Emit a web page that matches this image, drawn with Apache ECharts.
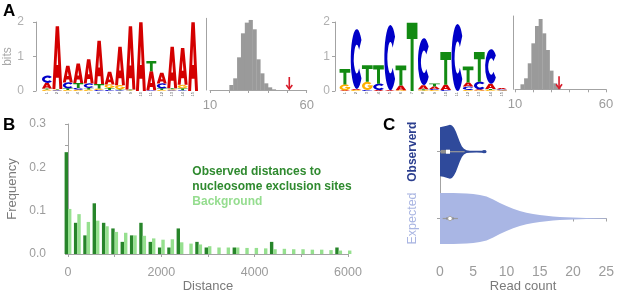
<!DOCTYPE html>
<html>
<head>
<meta charset="utf-8">
<script src="https://cdn.jsdelivr.net/npm/echarts@6/dist/echarts.min.js"></script>
<style>
html, body { margin: 0; padding: 0; background: #fff; }
#chart { width: 617px; height: 294px; }
</style>
</head>
<body>
<div id="chart"></div>
<script>
// ---------- Panel A: motif logos, letters listed bottom to top as [letter, bits]
var logoPositions1 = ['1','2','3','4','5','6','7','8','9','10','11','12','13','14','15'];
var logo1 = [
    [['G', .04], ['T', .03], ['A', .17], ['C', .20]],
    [['C', .02], ['G', .02], ['T', .02], ['A', 1.82]],
    [['G', .03], ['T', .05], ['C', .17], ['A', .48]],
    [['G', .04], ['C', .05], ['T', .14], ['A', .57]],
    [['G', .04], ['T', .05], ['C', .13], ['A', .70]],
    [['C', .03], ['G', .04], ['T', .13], ['A', 1.26]],
    [['C', .03], ['T', .06], ['G', .10], ['A', .37]],
    [['C', .02], ['T', .03], ['G', .12], ['A', 1.11]],
    [['C', .01], ['G', .01], ['T', .02], ['A', 1.84]],
    [['A', 1.99]],
    [['C', .02], ['A', .55], ['T', .30]],
    [['G', .03], ['T', .05], ['C', .14], ['A', .31]],
    [['C', .02], ['G', .03], ['T', .03], ['A', 1.20]],
    [['C', .02], ['T', .06], ['G', .10], ['A', 1.07]],
    [['A', 1.99]]
];
var logoPositions2 = ['1','2','3','4','5','6','7','8','9','10','11','12','13','14','15'];
var logo2 = [
    [['A', .02], ['G', .17], ['T', .45]],
    [['G', .03], ['A', .03], ['C', 1.73]],
    [['C', .03], ['G', .24], ['T', .48]],
    [['A', .03], ['C', .18], ['T', .54]],
    [['A', .02], ['C', 1.89]],
    [['G', .02], ['A', .14], ['T', .58]],
    [['T', 1.98]],
    [['G', .02], ['T', .03], ['A', .12], ['C', 1.36]],
    [['G', .03], ['C', .03], ['A', .07], ['T', .09]],
    [['C', .03], ['A', .15], ['T', .95]],
    [['C', 1.94]],
    [['G', .03], ['C', .10], ['A', .12], ['T', .46]],
    [['G', .02], ['A', .03], ['C', .22], ['T', .86]],
    [['G', .03], ['T', .03], ['A', .15], ['C', 1.00]],
    [['G', .02], ['C', .03], ['A', .04]]
];

// histograms next to the logos (bin start, bin width, counts) + observed value (arrow)
var hist1Start = 20, hist1Bin = 2;
var hist1Counts = [15, 35, 98, 170, 202, 210, 182, 92, 50, 20, 8, 2];
var hist1Observed = 51;
var hist2Start = 13, hist2Bin = 2;
var hist2Counts = [15, 33, 78, 138, 190, 211, 168, 118, 56, 18, 6];
var hist2Observed = 34.2;

// ---------- Panel B
var distBins = [0, 200, 400, 600, 800, 1000, 1200, 1400, 1600, 1800, 2000, 2200, 2400, 2600, 2800, 3000,
    3200, 3400, 3600, 3800, 4000, 4200, 4400, 4600, 4800, 5000, 5200, 5400, 5600, 5800, 6000];
var observedFreq = [0.235, 0.072, 0.043, 0.117, 0.072, 0.059, 0.028, 0.043, 0.072, 0.028, 0.015, 0.015, 0.059, 0, 0.028, 0.015,
    0, 0, 0.015, 0, 0, 0, 0.028, 0, 0, 0, 0, 0, 0, 0.015, 0];
var backgroundFreq = [0.104, 0.092, 0.074, 0.077, 0.064, 0.051, 0.049, 0.043, 0.042, 0.036, 0.033, 0.034, 0.027, 0.024, 0.022, 0.018,
    0.015, 0.015, 0.015, 0.014, 0.014, 0.013, 0.011, 0.012, 0.011, 0.011, 0.010, 0.010, 0.009, 0.008, 0.008];

// ---------- Panel C: violins (read count, half width) ; Observed at y=1, Expected at y=0
var obsViolinX = [0, 0.5, 1.0, 1.5, 1.8, 2.1, 2.4, 2.7, 3.0, 3.3, 3.6, 4.0, 4.5, 5.5, 6.3, 6.6, 6.9, 7.0];
var obsViolinW = [.367, .376, .390, .404, .393, .357, .300, .221, .143, .079, .043, .021, .014, .013, .014, .024, .021, .004];
var expViolinX = [0, 2, 4, 5, 6, 7, 8, 9, 10, 11, 12, 13, 14, 15, 16, 17, 18, 19, 20, 22, 25];
var expViolinW = [.381, .381, .376, .367, .353, .329, .286, .233, .186, .147, .114, .086, .067, .053, .040, .030, .023, .019, .014, .009, .004];
var obsBox = [0, 0.1, 1.2, 1.5, 3.7];   // min, q1, median, q3, max
var expBox = [0.4, 0.9, 1.5, 2.1, 2.7];

var FONT = '"Liberation Sans", Arial, Helvetica, sans-serif';
var axisGray = '#a3a3a3';
var labelGray = '#9c9c9c';
var letterColors = { A: '#d40000', C: '#0000c8', G: '#ffb000', T: '#128a12' };
var letterCodes = ['A', 'C', 'G', 'T'];

// heavy block letter outlines in a 100x100 box, stretched into each cell
var letterPaths = {
    A: 'M0,100 L33,0 L67,0 L100,100 L70,100 L64,82 L36,82 L30,100 Z M42,62 L58,62 L50,34 Z',
    C: 'M88.3,17.9 A50,50 0 1 0 88.3,82.1 L68.4,65.4 A24,24 0 1 1 68.4,34.6 Z',
    G: 'M88.3,17.9 A50,50 0 1 0 100,52 L100,43 L54,43 L54,60 L72,60 A24,24 0 1 1 68.4,34.6 Z',
    T: 'M0,0 L100,0 L100,24 L64,24 L64,100 L36,100 L36,24 L0,24 Z'
};

function logoData(logo) {
    var out = [];
    logo.forEach(function (col, i) {
        var y = 0;
        col.forEach(function (item) {
            out.push([i, y, y + item[1], letterCodes.indexOf(item[0])]);
            y += item[1];
        });
    });
    return out;
}

function renderLetter(params, api) {
    var ch = letterCodes[api.value(3)];
    var bottom = api.coord([api.value(0), api.value(1)]);
    var top = api.coord([api.value(0), api.value(2)]);
    var bw = api.size([1, 0])[0];
    var h = bottom[1] - top[1];
    if (h < 0.25) return;
    return {
        type: 'path',
        shape: { pathData: letterPaths[ch], x: bottom[0] - bw / 2 + 0.25, y: top[1], width: bw - 0.5, height: h, layout: 'cover' },
        style: { fill: letterColors[ch] }
    };
}

function histData(start, bin, counts) {
    return counts.map(function (c, i) { return [start + i * bin, start + (i + 1) * bin, c]; });
}

function renderHistBar(params, api) {
    var p0 = api.coord([api.value(0), api.value(2)]);
    var p1 = api.coord([api.value(1), 0]);
    return { type: 'rect', shape: { x: p0[0], y: p0[1], width: p1[0] - p0[0] + 0.3, height: p1[1] - p0[1] }, style: { fill: '#9a9a9a' } };
}

function renderArrow(params, api) {
    var p = api.coord([api.value(0), 0]);
    var yb = p[1] - 1, yt = p[1] - 13;
    return {
        type: 'group', children: [
            { type: 'line', shape: { x1: p[0], y1: yt, x2: p[0], y2: yb }, style: { stroke: '#d81b2a', lineWidth: 1.6 } },
            { type: 'polyline', shape: { points: [[p[0] - 3, yb - 4], [p[0], yb], [p[0] + 3, yb - 4]] }, style: { stroke: '#d81b2a', lineWidth: 1.6, fill: null } }
        ]
    };
}

function violinRenderer(xs, ws, center, color) {
    return function (params, api) {
        var upper = [], lower = [];
        for (var i = 0; i < xs.length; i++) {
            upper.push(api.coord([xs[i], center + ws[i]]));
            lower.unshift(api.coord([xs[i], center - ws[i]]));
        }
        return { type: 'polygon', shape: { points: upper.concat(lower) }, style: { fill: color } };
    };
}

function boxRenderer(box, center, boxHalf, medianShape) {
    return function (params, api) {
        var pMin = api.coord([box[0], center]), pQ1 = api.coord([box[1], center]);
        var pMed = api.coord([box[2], center]), pQ3 = api.coord([box[3], center]);
        var pMax = api.coord([box[4], center]);
        var y = pMed[1];
        var med = medianShape === 'square'
            ? { type: 'rect', shape: { x: pMed[0] - 2, y: y - 2, width: 4, height: 4 }, style: { fill: '#fff' } }
            : { type: 'circle', shape: { cx: pMed[0], cy: y, r: 2.2 }, style: { fill: '#fff', stroke: '#999', lineWidth: 0.8 } };
        return {
            type: 'group', children: [
                { type: 'line', shape: { x1: pMin[0], y1: y, x2: pMax[0], y2: y }, style: { stroke: '#9a9a9a', lineWidth: 1.2 } },
                { type: 'rect', shape: { x: pQ1[0], y: y - boxHalf, width: pQ3[0] - pQ1[0], height: boxHalf * 2 }, style: { fill: '#8e8e8e' } },
                med
            ]
        };
    };
}

function logoXAxis(gridIndex, cats) {
    return {
        gridIndex: gridIndex, type: 'category', data: cats,
        axisLine: { show: false }, axisTick: { show: false },
        axisLabel: { fontSize: 4, color: '#555', margin: 1, rotate: 90, interval: 0 }
    };
}
function logoYAxis(gridIndex, offset, margin, name) {
    return {
        gridIndex: gridIndex, type: 'value', min: 0, max: 2, interval: 1, offset: offset,
        axisLine: { show: true, lineStyle: { color: axisGray } },
        axisTick: { show: true, length: 3, lineStyle: { color: axisGray } },
        axisLabel: { color: '#b0b0b0', fontSize: 12, margin: margin },
        splitLine: { show: false },
        name: name, nameLocation: 'middle', nameGap: 20, nameRotate: 90,
        nameTextStyle: { color: '#a8a8a8', fontSize: 12 }
    };
}
function histXAxis(gridIndex, offset) {
    return {
        gridIndex: gridIndex, type: 'value', min: 10, max: 60, interval: 10, offset: offset,
        axisLine: { show: true, lineStyle: { color: axisGray } },
        axisTick: { show: true, length: 3, lineStyle: { color: axisGray } },
        axisLabel: { color: labelGray, fontSize: 13, margin: 7, formatter: function (v) { return (v === 10 || v === 60) ? v : ''; } },
        splitLine: { show: false }
    };
}
function histYAxis(gridIndex, offset, max) {
    return {
        gridIndex: gridIndex, type: 'value', min: 0, max: max, offset: offset,
        axisLine: { show: true, lineStyle: { color: axisGray } },
        axisTick: { show: false }, axisLabel: { show: false }, splitLine: { show: false }
    };
}

var chartDom = document.getElementById('chart');
var myChart = echarts.init(chartDom);

var option = {
    animation: false,
    textStyle: { fontFamily: FONT },
    grid: [
        { left: 41.7, top: 22, width: 156.6, height: 69 },
        { left: 210, top: 18.3, width: 96.7, height: 71.7 },
        { left: 339.3, top: 22, width: 168, height: 69 },
        { left: 515, top: 16, width: 91, height: 73.3 },
        { left: 68, top: 124, width: 280, height: 131.7 },
        { left: 440, top: 151.7, width: 169, height: 70 }
    ],
    xAxis: [
        logoXAxis(0, logoPositions1),
        histXAxis(1, 1.7),
        logoXAxis(2, logoPositions2),
        histXAxis(3, 1.4),
        {
            gridIndex: 4, type: 'value', min: 0, max: 6000, interval: 1000, offset: 6,
            axisLine: { show: true, lineStyle: { color: axisGray } },
            axisTick: { show: true, length: 3, lineStyle: { color: axisGray } },
            axisLabel: { color: labelGray, fontSize: 12.5, margin: 6, formatter: function (v) { return v % 2000 === 0 ? v : ''; } },
            splitLine: { show: false },
            name: 'Distance', nameLocation: 'middle', nameGap: 20,
            nameTextStyle: { color: '#7a7a7a', fontSize: 13 }
        },
        {
            gridIndex: 5, type: 'value', min: 0, max: 25, interval: 5, offset: 41.6,
            axisLine: { show: true, lineStyle: { color: axisGray } },
            axisTick: { show: true, length: 3, lineStyle: { color: axisGray } },
            axisLabel: { color: labelGray, fontSize: 14, margin: 5 },
            splitLine: { show: false },
            name: 'Read count', nameLocation: 'middle', nameGap: 18,
            nameTextStyle: { color: '#7a7a7a', fontSize: 13 }
        }
    ],
    yAxis: [
        logoYAxis(0, 5.7, 12, 'bits'),
        histYAxis(1, 3.3, 215),
        logoYAxis(2, 4.3, 5, ''),
        histYAxis(3, 1.7, 220),
        {
            gridIndex: 4, type: 'value', min: 0, max: 0.3, interval: 0.05, offset: 18,
            axisLine: { show: true, lineStyle: { color: axisGray } },
            axisTick: { show: true, length: 3, lineStyle: { color: axisGray } },
            axisLabel: {
                color: labelGray, fontSize: 12, margin: 4,
                formatter: function (v) { return Math.round(v * 100) % 10 === 0 ? v.toFixed(1) : ''; }
            },
            splitLine: { show: false },
            name: 'Frequency', nameLocation: 'middle', nameGap: 31, nameRotate: 90,
            nameTextStyle: { color: '#7a7a7a', fontSize: 13 }
        },
        {
            gridIndex: 5, type: 'value', min: 0, max: 1, interval: 1, offset: 8.3,
            axisLine: { show: true, lineStyle: { color: axisGray } },
            axisTick: { show: true, length: 3, lineStyle: { color: axisGray } },
            axisLabel: {
                rotate: 90, margin: 13,
                formatter: function (v) { return v === 1 ? '{o|Observerd}' : '{e|Expected}'; },
                rich: {
                    o: { color: '#2c3f8f', fontWeight: 'bold', fontSize: 12 },
                    e: { color: '#a9b5e2', fontSize: 12.5 }
                }
            },
            splitLine: { show: false }
        }
    ],
    graphic: [
        { type: 'text', left: 3, top: 3, style: { text: 'A', font: 'bold 17px ' + FONT, fill: '#000' } },
        { type: 'text', left: 3, top: 117, style: { text: 'B', font: 'bold 17px ' + FONT, fill: '#000' } },
        { type: 'text', left: 383, top: 117, style: { text: 'C', font: 'bold 17px ' + FONT, fill: '#000' } },
        { type: 'text', x: 192.3, y: 172, style: { text: 'Observed distances to', font: 'bold 12px ' + FONT, fill: '#2f8a2f', verticalAlign: 'middle' } },
        { type: 'text', x: 192.3, y: 187, style: { text: 'nucleosome exclusion sites', font: 'bold 12px ' + FONT, fill: '#2f8a2f', verticalAlign: 'middle' } },
        { type: 'text', x: 192.3, y: 202, style: { text: 'Background', font: 'bold 12px ' + FONT, fill: '#95dd8f', verticalAlign: 'middle' } }
    ],
    series: [
        { type: 'custom', xAxisIndex: 0, yAxisIndex: 0, data: logoData(logo1), renderItem: renderLetter, silent: true },
        { type: 'custom', xAxisIndex: 1, yAxisIndex: 1, data: histData(hist1Start, hist1Bin, hist1Counts), renderItem: renderHistBar, silent: true },
        { type: 'custom', xAxisIndex: 1, yAxisIndex: 1, data: [[hist1Observed]], renderItem: renderArrow, silent: true },
        { type: 'custom', xAxisIndex: 2, yAxisIndex: 2, data: logoData(logo2), renderItem: renderLetter, silent: true },
        { type: 'custom', xAxisIndex: 3, yAxisIndex: 3, data: histData(hist2Start, hist2Bin, hist2Counts), renderItem: renderHistBar, silent: true },
        { type: 'custom', xAxisIndex: 3, yAxisIndex: 3, data: [[hist2Observed]], renderItem: renderArrow, silent: true },
        {
            type: 'bar', xAxisIndex: 4, yAxisIndex: 4, clip: false, barWidth: 3.4, barGap: '0%',
            itemStyle: { color: '#27852a' },
            data: distBins.map(function (d, i) { return [d, observedFreq[i]]; })
        },
        {
            type: 'bar', xAxisIndex: 4, yAxisIndex: 4, clip: false, barWidth: 3.4, barGap: '0%',
            itemStyle: { color: '#96e08f' },
            data: distBins.map(function (d, i) { return [d, backgroundFreq[i]]; })
        },
        { type: 'custom', xAxisIndex: 5, yAxisIndex: 5, data: [[0]], renderItem: violinRenderer(obsViolinX, obsViolinW, 1, '#2f4a9b'), silent: true },
        { type: 'custom', xAxisIndex: 5, yAxisIndex: 5, data: [[0]], renderItem: violinRenderer(expViolinX, expViolinW, 0, '#a9b6e4'), silent: true },
        { type: 'custom', xAxisIndex: 5, yAxisIndex: 5, data: [[0]], renderItem: boxRenderer(obsBox, 1, 1.8, 'square'), silent: true },
        { type: 'custom', xAxisIndex: 5, yAxisIndex: 5, data: [[0]], renderItem: boxRenderer(expBox, 0, 1.0, 'circle'), silent: true }
    ]
};

myChart.setOption(option);
</script>
</body>
</html>
